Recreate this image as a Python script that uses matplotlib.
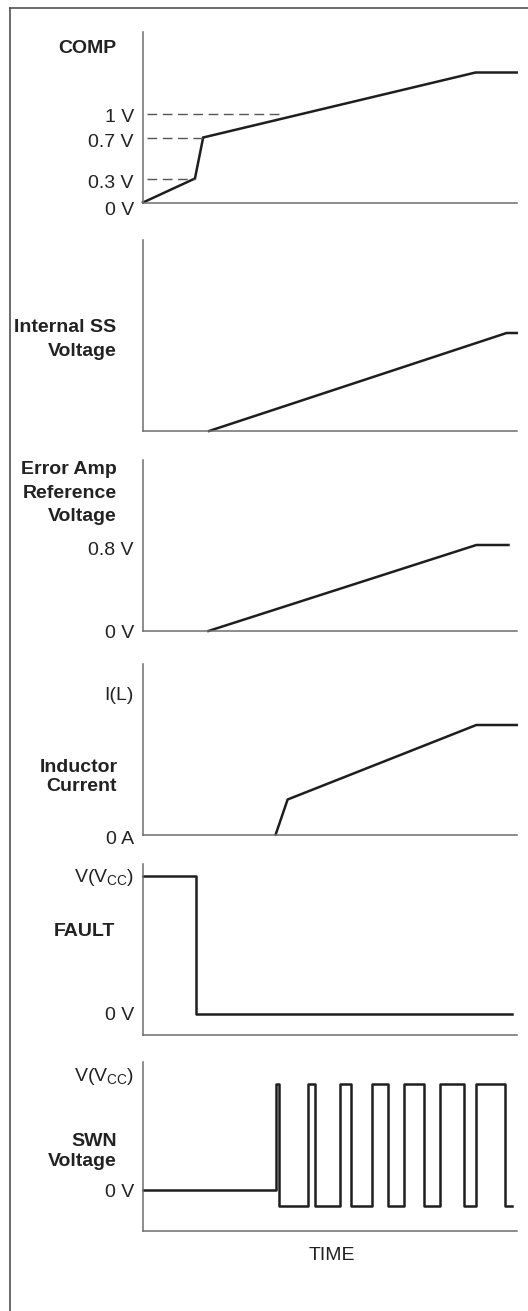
import matplotlib
matplotlib.use('Agg')
import matplotlib.pyplot as plt
from matplotlib.lines import Line2D

plt.rcParams['font.family'] = ['Liberation Sans', 'DejaVu Sans']
plt.rcParams['mathtext.fontset'] = 'custom'
plt.rcParams['mathtext.rm'] = 'Liberation Sans'

W, H = 528, 1311
# time axis runs 0..100, levels are in panel pixels above the time axis

# COMP
comp_t = [0, 13.9, 16.1, 89.0, 100]
comp_y = [0, 24, 65, 130, 130]
comp_ticks = [0, 24, 65, 89]
comp_labels = ['0 V', '0.3 V', '0.7 V', '1 V']
comp_dash_end = [13.9, 16.1, 36.7]   # for 0.3 V, 0.7 V, 1 V

# internal soft start
ss_t = [17.7, 97.3, 100]
ss_y = [0, 98, 98]

# error amp reference
ref_t = [17.5, 89.2, 97.8]
ref_y = [0, 86, 86]
ref_ticks = [0, 86]
ref_labels = ['0 V', '0.8 V']

# inductor current
il_t = [35.5, 38.7, 89.2, 100]
il_y = [0, 35, 109.5, 109.5]

# FAULT
fault_t = [0, 14.1, 14.1, 98.8]
fault_y = [159, 159, 21, 21]

# SWN voltage (steps)
swn_t = [0, 35.5, 36.4, 44.1, 46.1, 52.6, 55.7, 61.3, 65.5, 69.9, 75.2,
         79.6, 86.0, 89.1, 96.9, 98.7]
swn_y = [41, 147, 25, 147, 25, 147, 25, 147, 25, 147, 25, 147, 25, 147, 25, 25]

vcc = 'V(V$_{\\mathregular{CC}}$)'

fig = plt.figure(figsize=(W / 100, H / 100), dpi=100)

def fx(px):
    return px / W

def fy(py):
    return 1 - py / H

def make_axes(top, bottom):
    ax = fig.add_axes([fx(143), fy(bottom), fx(516.7) - fx(143), (bottom - top) / H])
    ax.set_xlim(0, 100)
    ax.set_ylim(0, bottom - top)
    for s in ['top', 'right']:
        ax.spines[s].set_visible(False)
    for s in ['left', 'bottom']:
        ax.spines[s].set_color('#6e6e6e')
        ax.spines[s].set_linewidth(1.1)
    ax.set_xticks([])
    ax.set_yticks([])
    ax.patch.set_alpha(0)
    return ax

def level_label(ax, y, s, dy):
    ax.annotate(s, (0, y), xycoords=('axes fraction', 'data'), xytext=(-9, -dy),
                textcoords='offset pixels', ha='right', va='center', fontsize=14,
                color='#222222')

def name_label(py, s, right=116.5):
    fig.text(fx(right), fy(py), s, ha='right', va='center', fontsize=14,
             fontweight='bold', color='#222222')

lw = 1.8
col = '#1e1e1e'

# frame
fig.add_artist(Line2D([fx(10), fx(10)], [fy(7.5), 0], color='#444444', lw=1.1))
fig.add_artist(Line2D([fx(10), 1], [fy(7.5), fy(7.5)], color='#444444', lw=1.1))

ax1 = make_axes(32, 202.5)
ax1.plot(comp_t, comp_y, color=col, lw=lw, clip_on=False, solid_joinstyle='miter')
for yv, xe in zip(comp_ticks[1:], comp_dash_end):
    ax1.plot([1, xe], [yv, yv], color='#555555', lw=1.0, dashes=(7, 4), clip_on=False)
for yv, s, dy in zip(comp_ticks, comp_labels, [8, 5, 5, 4.5]):
    level_label(ax1, yv, s, dy)
name_label(48.3, 'COMP')

ax2 = make_axes(240, 431)
ax2.plot(ss_t, ss_y, color=col, lw=lw, clip_on=False)
name_label(327, 'Internal SS')
name_label(351, 'Voltage')

ax3 = make_axes(460, 631)
ax3.plot(ref_t, ref_y, color=col, lw=lw, clip_on=False)
for yv, s, dy in zip(ref_ticks, ref_labels, [3, 5.5]):
    level_label(ax3, yv, s, dy)
name_label(469, 'Error Amp')
name_label(493, 'Reference')
name_label(517, 'Voltage')

ax4 = make_axes(664, 834.5)
ax4.plot(il_t, il_y, color=col, lw=lw, clip_on=False)
level_label(ax4, 0, '0 A', 5.5)
level_label(ax4, 139.5, 'I(L)', 0)
name_label(767, 'Inductor', 117.5)
name_label(787, 'Current')

ax5 = make_axes(864, 1035)
ax5.plot(fault_t, fault_y, color=col, lw=lw, clip_on=False)
level_label(ax5, 159, vcc, 2)
level_label(ax5, 21, '0 V', 2)
name_label(932, 'FAULT', 115.5)

ax6 = make_axes(1062, 1230.7)
ax6.plot(swn_t, swn_y, color=col, lw=lw, drawstyle='steps-post', clip_on=False)
level_label(ax6, 147, vcc, -7)
level_label(ax6, 41, '0 V', 2.5)
name_label(1142, 'SWN')
name_label(1162, 'Voltage')

fig.text(fx(332), fy(1256), 'TIME', ha='center', va='center', fontsize=14, color='#222222')

fig.savefig('out.png', dpi=100, facecolor='white')
